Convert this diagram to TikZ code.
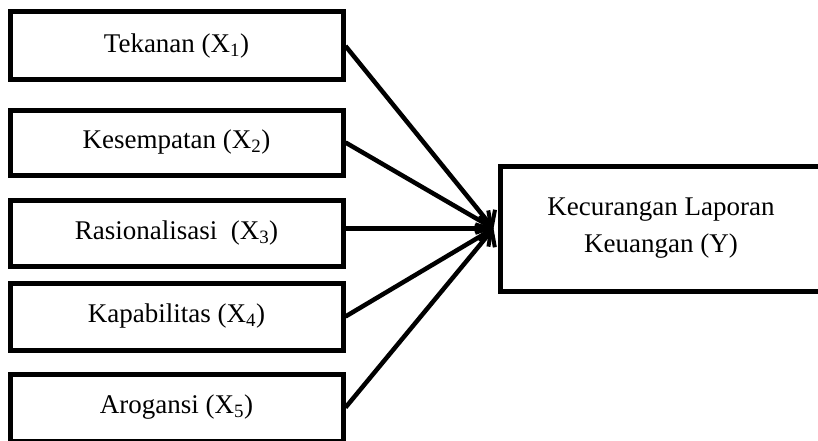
\documentclass[tikz,border=0pt]{standalone}
\usepackage{fontspec}
\setmainfont{Liberation Serif}
\usetikzlibrary{positioning,arrows.meta}
\tikzset{
  varbox/.style={draw, line width=5pt, align=center, font=\fontsize{27}{37}\selectfont,
    minimum width=333pt, inner sep=0pt, fill=white},
  vararrow/.style={-{Straight Barb[length=11pt,width=26pt,line width=4pt]}, line width=4.5pt},
}

\begin{document}
\begin{tikzpicture}[x=1pt,y=1pt]
  \useasboundingbox (0,0) rectangle (818,440);
  % variabel bebas
  \node[varbox, minimum height=68pt] (x1) at (176.5,394) {Tekanan (X\textsubscript{1})};
  \node[varbox, minimum height=65pt] (x2) at (176.5,297.5) {Kesempatan (X\textsubscript{2})};
  \node[varbox, minimum height=66pt] (x3) at (176.5,207) {Rasionalisasi~ (X\textsubscript{3})};
  \node[varbox, minimum height=67pt] (x4) at (176.5,123.5) {Kapabilitas (X\textsubscript{4})};
  \node[varbox, minimum height=67pt] (x5) at (176.5,32.5) {Arogansi (X\textsubscript{5})};
  % variabel terikat
  \node[varbox, minimum width=322pt, minimum height=125pt] (y) at (661,211.5)
    {Kecurangan Laporan\\Keuangan (Y)};
  \coordinate (tip) at ([xshift=-4pt]y.west);
  \foreach \v in {x1,x2,x4,x5}
    \draw[vararrow] (\v.east) -- (tip);
  \draw[vararrow] (x3.east |- tip) -- (tip);
\end{tikzpicture}
\end{document}
